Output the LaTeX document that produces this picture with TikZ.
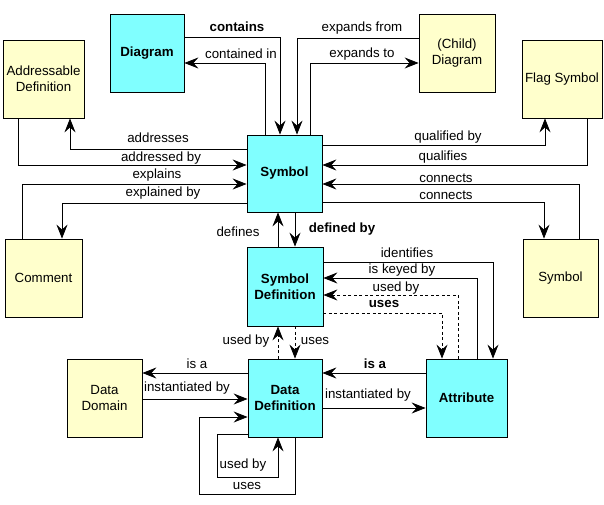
\documentclass[tikz,border=0pt]{standalone}
\usepackage{fontspec}
\setmainfont{Liberation Sans}
\usetikzlibrary{arrows.meta}
\definecolor{boxcyan}{RGB}{128,255,255}
\definecolor{boxyellow}{RGB}{255,255,204}
\tikzset{
  box/.style={draw=black, line width=0.8pt, inner sep=0pt, align=center,
    font=\fontsize{13.3}{15.8}\selectfont},
  cbox/.style={box, fill=boxcyan, font=\fontsize{13.3}{15.8}\selectfont\bfseries},
  ybox/.style={box, fill=boxyellow},
  conn/.style={draw=black, line width=0.8pt,
    -{Stealth[length=14pt,width=11pt,inset=5pt]}},
  dconn/.style={conn, dash pattern=on 3pt off 2.5pt},
  lbl/.style={inner sep=0pt, font=\fontsize{13.3}{15}\selectfont},
  blbl/.style={lbl, font=\fontsize{13.3}{15}\selectfont\bfseries}
}
\begin{document}
\begin{tikzpicture}[x=1pt,y=-1pt]
\fill[white] (0,0) rectangle (604,505);
\useasboundingbox (0,0) rectangle (604,505);

% boxes
\node[cbox, minimum width=74pt, minimum height=78pt] (diag) at (147,53) {Diagram};
\node[ybox, minimum width=76pt, minimum height=78pt] (child) at (457,53) {(Child)\\Diagram};
\node[ybox, minimum width=81pt, minimum height=78pt] (addr) at (43.5,79) {Addressable\\Definition};
\node[ybox, minimum width=80pt, minimum height=78pt] (flag) at (562,79) {Flag Symbol};
\node[cbox, minimum width=75pt, minimum height=77pt] (sym) at (284.5,173.5) {Symbol};
\node[ybox, minimum width=77pt, minimum height=78pt] (comment) at (43.5,278) {Comment};
\node[ybox, minimum width=75pt, minimum height=78pt] (rsym) at (560.5,278) {Symbol};
\node[cbox, minimum width=76pt, minimum height=79pt] (sdef) at (285,286.5) {Symbol\\Definition};
\node[cbox, minimum width=74pt, minimum height=78pt] (ddef) at (285,398) {Data\\Definition};
\node[ybox, minimum width=75pt, minimum height=78pt] (ddom) at (104.5,398) {Data\\Domain};
\node[cbox, minimum width=81pt, minimum height=78pt] (attr) at (466.5,398) {Attribute};

% top connectors
\draw[conn] (diag.east |- 0,37) -| (280,0 |- sym.north);
\draw[conn] (265,0 |- sym.north) |- (diag.east |- 0,63);
\draw[conn] (child.west |- 0,38) -| (297,0 |- sym.north);
\draw[conn] (310,0 |- sym.north) |- (child.west |- 0,63);
% left connectors
\draw[conn] (sym.west |- 0,149) -| (70,0 |- addr.south);
\draw[conn] (18,0 |- addr.south) |- (sym.west |- 0,165);
\draw[conn] (22,0 |- comment.north) |- (sym.west |- 0,184);
\draw[conn] (sym.west |- 0,203) -| (62,0 |- comment.north);
% right connectors
\draw[conn] (sym.east |- 0,145) -| (545,0 |- flag.south);
\draw[conn] (587,0 |- flag.south) |- (sym.east |- 0,165);
\draw[conn] (579,0 |- rsym.north) |- (sym.east |- 0,184);
\draw[conn] (sym.east |- 0,202) -| (544,0 |- rsym.north);
% symbol - symbol definition
\draw[conn] (278,0 |- sdef.north) -- (278,0 |- sym.south);
\draw[conn] (295,0 |- sym.south) -- (295,0 |- sdef.north);
% symbol definition - attribute
\draw[conn] (sdef.east |- 0,262) -| (493,0 |- attr.north);
\draw[conn] (477,0 |- attr.north) |- (sdef.east |- 0,278);
\draw[dconn] (458,0 |- attr.north) |- (sdef.east |- 0,295);
\draw[dconn] (sdef.east |- 0,313) -| (442,0 |- attr.north);
% symbol definition - data definition
\draw[dconn] (278,0 |- ddef.north) -- (278,0 |- sdef.south);
\draw[dconn] (295,0 |- sdef.south) -- (295,0 |- ddef.north);
% data domain - data definition
\draw[conn] (ddef.west |- 0,373) -- (ddom.east |- 0,373);
\draw[conn] (ddom.east |- 0,399) -- (ddef.west |- 0,399);
% data definition loops
\draw[conn] (295,0 |- ddef.south) -- (295,494) -| (199,417) -- (ddef.west |- 0,417);
\draw[conn] (ddef.west |- 0,434) -- (217,434) -- (217,477) -| (278,0 |- ddef.south);
% attribute - data definition
\draw[conn] (attr.west |- 0,373) -- (ddef.east |- 0,373);
\draw[conn] (ddef.east |- 0,408) -- (attr.west |- 0,408);

% labels
\node[blbl] (l1) at (237,27) {contains};
\node[lbl] (l2) at (241,54) {contained in};
\node[lbl] (l3) at (362,28) {expands from};
\node[lbl] (l4) at (362,54) {expands to};
\node[lbl] (l5) at (158,138) {addresses};
\node[lbl] (l6) at (161,158) {addressed by};
\node[lbl] (l7) at (157,175) {explains};
\node[lbl] (l8) at (163,193) {explained by};
\node[lbl] (l9) at (448,137) {qualified by};
\node[lbl] (l10) at (443,157) {qualifies};
\node[lbl] (l11) at (446,178) {connects};
\node[lbl] (l12) at (446,195) {connects};
\node[lbl] (l13) at (238,232) {defines};
\node[blbl] (l14) at (342,229) {defined by};
\node[lbl] (l15) at (407,253) {identifies};
\node[lbl] (l16) at (402,270) {is keyed by};
\node[lbl] (l17) at (396,288) {used by};
\node[blbl] (l18) at (384,304) {uses};
\node[lbl] (l19) at (246,341) {used by};
\node[lbl] (l20) at (315,341) {uses};
\node[lbl] (l21) at (197,364) {is a};
\node[lbl] (l22) at (187,388) {instantiated by};
\node[lbl] (l23) at (243,465) {used by};
\node[lbl] (l24) at (247,486) {uses};
\node[blbl] (l25) at (375,364) {is a};
\node[lbl] (l26) at (368,395) {instantiated by};
\end{tikzpicture}
\end{document}
